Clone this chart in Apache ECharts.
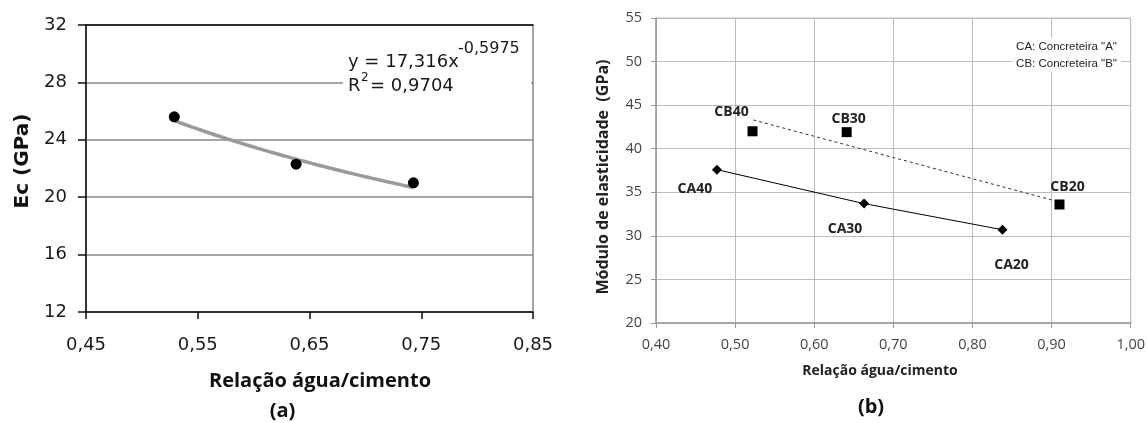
<!DOCTYPE html>
<html>
<head>
<meta charset="utf-8">
<script src="https://cdn.jsdelivr.net/npm/echarts@6/dist/echarts.min.js"></script>
<style>
  html, body { margin: 0; padding: 0; background: #fff; }
  #chart { width: 1148px; height: 423px; }
</style>
</head>
<body>
<div id="chart"></div>
<script>
// ---- (a) Ec versus water/cement ratio ----
const ecRatio = [0.529, 0.638, 0.743];
const ecValue = [25.6, 22.3, 21.0];
// power-law fit y = a * x^b and its R²
const fitA = 17.316;
const fitB = -0.5975;
const fitR2 = 0.9704;

// ---- (b) elastic modulus per supplier ----
const caLabels = ['CA40', 'CA30', 'CA20'];
const caRatio = [0.477, 0.663, 0.838];
const caModulus = [37.6, 33.7, 30.7];
const cbLabels = ['CB40', 'CB30', 'CB20'];
const cbRatio = [0.522, 0.641, 0.910];
const cbModulus = [42.0, 41.9, 33.6];
// dashed trend for supplier B (end points)
const cbTrendRatio = [0.523, 0.901];
const cbTrendModulus = [43.3, 34.1];
const legendLines = ['CA: Concreteira "A"', 'CB: Concreteira "B"'];

const comma = v => String(v).replace('.', ',');
const fmt2 = v => v.toFixed(2).replace('.', ',');

// sample the fitted curve over the measured range
const fitCurve = [];
{
  const lo = Math.min(...ecRatio), hi = Math.max(...ecRatio), n = 40;
  for (let i = 0; i <= n; i++) {
    const x = lo + (hi - lo) * i / n;
    fitCurve.push([x, fitA * Math.pow(x, fitB)]);
  }
}

// label placement around the (b) markers
const labelOffset = {
  CA40: [-22, 19], CA30: [-19, 25], CA20: [9, 35],
  CB40: [-21, -19], CB30: [2, -13], CB20: [8, -17]
};
const pointData = (names, xs, ys) => names.map((n, i) => ({
  name: n, value: [xs[i], ys[i]],
  label: { offset: labelOffset[n] }
}));

const SANS = 'DejaVu Sans';
const OPEN = 'Open Sans';

const chart = echarts.init(document.getElementById('chart'), null, { renderer: 'canvas' });

const option = {
  backgroundColor: '#fff',
  animation: false,
  grid: [
    { left: 86, top: 25, width: 447, height: 287, show: true, borderColor: '#888', borderWidth: 1.5, backgroundColor: 'transparent' },
    { left: 656, top: 18, width: 476, height: 305, show: true, borderColor: '#bdbdbd', borderWidth: 1, backgroundColor: 'transparent' }
  ],
  xAxis: [
    {
      gridIndex: 0, type: 'value', min: 0.45, max: 0.85, interval: 0.1,
      axisLine: { show: true, onZero: false, lineStyle: { color: '#111', width: 1.5 } },
      axisTick: { show: true, length: 7, lineStyle: { color: '#111', width: 1.5 } },
      axisLabel: { margin: 24, fontFamily: SANS, fontSize: 18, color: '#1a1a1a', formatter: fmt2 },
      splitLine: { show: false }
    },
    {
      gridIndex: 0, type: 'value', position: 'top', min: 0.45, max: 0.85, interval: 0.1,
      axisLine: { show: true, onZero: false, lineStyle: { color: '#111', width: 1.5 } },
      axisTick: { show: false }, axisLabel: { show: false }, splitLine: { show: false }
    },
    {
      gridIndex: 1, type: 'value', min: 0.4, max: 1.0, interval: 0.1,
      axisLine: { show: true, onZero: false, lineStyle: { color: '#999', width: 1.5 } },
      axisTick: { show: true, length: 5, lineStyle: { color: '#999' } },
      axisLabel: { margin: 14, fontFamily: OPEN, fontSize: 14.5, color: '#444', formatter: fmt2 },
      splitLine: { show: true, lineStyle: { color: '#bdbdbd', width: 1 } }
    }
  ],
  yAxis: [
    {
      gridIndex: 0, type: 'value', min: 12, max: 32, interval: 4,
      axisLine: { show: true, onZero: false, lineStyle: { color: '#111', width: 1.5 } },
      axisTick: { show: true, length: 8, lineStyle: { color: '#111', width: 1.5 } },
      axisLabel: { margin: 19, fontFamily: SANS, fontSize: 18, color: '#1a1a1a' },
      splitLine: { show: true, lineStyle: { color: '#888', width: 1.5 } }
    },
    {
      gridIndex: 1, type: 'value', min: 20, max: 55, interval: 5,
      axisLine: { show: true, onZero: false, lineStyle: { color: '#999', width: 1.5 } },
      axisTick: { show: true, length: 5, lineStyle: { color: '#999' } },
      axisLabel: { margin: 14, fontFamily: OPEN, fontSize: 14.5, color: '#444' },
      splitLine: { show: true, lineStyle: { color: '#bdbdbd', width: 1 } }
    }
  ],
  series: [
    {
      type: 'line', xAxisIndex: 0, yAxisIndex: 0, data: fitCurve,
      showSymbol: false, symbol: 'none', z: 2,
      lineStyle: { color: '#9a9a9a', width: 3.5 }
    },
    {
      type: 'scatter', xAxisIndex: 0, yAxisIndex: 0, z: 3,
      data: ecRatio.map((x, i) => [x, ecValue[i]]),
      symbol: 'circle', symbolSize: 11, itemStyle: { color: '#000', opacity: 1 }
    },
    {
      type: 'line', xAxisIndex: 2, yAxisIndex: 1, z: 2,
      data: cbTrendRatio.map((x, i) => [x, cbTrendModulus[i]]),
      showSymbol: false, symbol: 'none',
      lineStyle: { color: '#333', width: 1, type: [3, 3] }
    },
    {
      type: 'line', xAxisIndex: 2, yAxisIndex: 1, z: 3,
      data: pointData(caLabels, caRatio, caModulus),
      symbol: 'diamond', symbolSize: 10, showSymbol: true,
      itemStyle: { color: '#000', opacity: 1 },
      lineStyle: { color: '#000', width: 1 },
      label: {
        show: true, position: 'inside', formatter: '{b}',
        fontFamily: OPEN, fontWeight: 'bold', fontSize: 14, color: '#222'
      }
    },
    {
      type: 'scatter', xAxisIndex: 2, yAxisIndex: 1, z: 3,
      data: pointData(cbLabels, cbRatio, cbModulus),
      symbol: 'rect', symbolSize: 10,
      itemStyle: { color: '#000', opacity: 1 },
      label: {
        show: true, position: 'inside', formatter: '{b}',
        fontFamily: OPEN, fontWeight: 'bold', fontSize: 14, color: '#222'
      }
    }
  ],
  graphic: [
    // fit equation box
    { type: 'rect', z: 10, shape: { x: 343, y: 37, width: 188, height: 72 }, style: { fill: '#fff' } },
    { type: 'text', z: 11, x: 348, y: 62, style: { text: 'y = ' + comma(fitA) + 'x', fontFamily: SANS, fontSize: 18, fill: '#1a1a1a', textAlign: 'left', textVerticalAlign: 'middle' } },
    { type: 'text', z: 11, x: 458, y: 49, style: { text: comma(fitB), fontFamily: SANS, fontSize: 16, fill: '#1a1a1a', textAlign: 'left', textVerticalAlign: 'middle' } },
    { type: 'text', z: 11, x: 348, y: 86, style: { text: 'R', fontFamily: SANS, fontSize: 18, fill: '#1a1a1a', textAlign: 'left', textVerticalAlign: 'middle' } },
    { type: 'text', z: 11, x: 361, y: 78, style: { text: '2', fontFamily: SANS, fontSize: 12, fill: '#1a1a1a', textAlign: 'left', textVerticalAlign: 'middle' } },
    { type: 'text', z: 11, x: 370, y: 86, style: { text: '= ' + comma(fitR2), fontFamily: SANS, fontSize: 18, fill: '#1a1a1a', textAlign: 'left', textVerticalAlign: 'middle' } },
    // axis titles (a)
    { type: 'text', z: 11, x: 22.5, y: 161, rotation: Math.PI / 2, style: { text: 'Ec (GPa)', fontFamily: SANS, fontWeight: 'bold', fontSize: 20, fill: '#111', textAlign: 'center', textVerticalAlign: 'middle' } },
    { type: 'text', z: 11, x: 320, y: 381, style: { text: 'Relação água/cimento', fontFamily: OPEN, fontWeight: 'bold', fontSize: 20, fill: '#111', textAlign: 'center', textVerticalAlign: 'middle' } },
    { type: 'text', z: 11, x: 282.5, y: 411, style: { text: '(a)', fontFamily: OPEN, fontWeight: 'bold', fontSize: 20, fill: '#111', textAlign: 'center', textVerticalAlign: 'middle' } },
    // axis titles (b)
    { type: 'text', z: 11, x: 603, y: 177, rotation: Math.PI / 2, style: { text: 'Módulo de elasticidade  (GPa)', fontFamily: OPEN, fontWeight: 'bold', fontSize: 16, fill: '#222', textAlign: 'center', textVerticalAlign: 'middle' } },
    { type: 'text', z: 11, x: 880, y: 371, style: { text: 'Relação água/cimento', fontFamily: OPEN, fontWeight: 'bold', fontSize: 14, fill: '#222', textAlign: 'center', textVerticalAlign: 'middle' } },
    { type: 'text', z: 11, x: 871, y: 407, style: { text: '(b)', fontFamily: OPEN, fontWeight: 'bold', fontSize: 20, fill: '#111', textAlign: 'center', textVerticalAlign: 'middle' } },
    // supplier key
    { type: 'rect', z: 10, shape: { x: 1012, y: 38, width: 109, height: 34 }, style: { fill: '#fff' } },
    { type: 'text', z: 11, x: 1066.5, y: 55.5, style: { text: legendLines.join('\n'), fontFamily: 'Liberation Sans', fontSize: 11.5, lineHeight: 17, fill: '#222', textAlign: 'center', textVerticalAlign: 'middle' } }
  ]
};

chart.setOption(option);
</script>
</body>
</html>
